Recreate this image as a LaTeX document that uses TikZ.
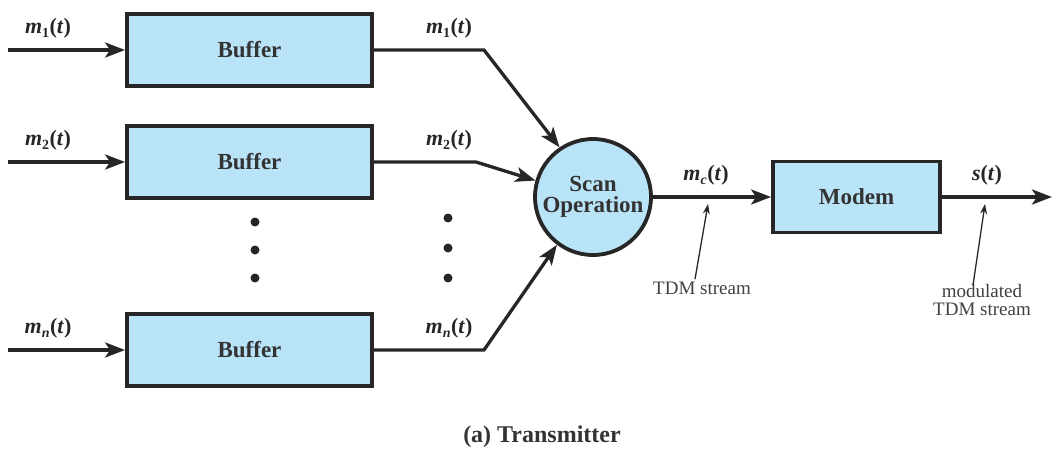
\documentclass[tikz,border=0pt]{standalone}
\usepackage{fontspec}
\setmainfont{Liberation Serif}
\usetikzlibrary{arrows.meta}
\definecolor{boxblue}{HTML}{B9E3F7}
\newcommand{\sig}[2]{\textbf{\textit{m}\raisebox{-4pt}{\fontsize{14}{14}\selectfont #2}\kern0.5pt(\textit{t})}}
\begin{document}
\begin{tikzpicture}[x=1pt,y=-1pt,
  blk/.style={draw=black!85,line width=3.8pt,fill=boxblue,font=\fontsize{23}{25}\selectfont\bfseries,text=black!80},
  sig/.style={line width=3.3pt,draw=black!85},
  arr/.style={sig,-{Stealth[length=20pt,width=15pt,inset=5pt]}},
  lab/.style={font=\fontsize{22}{24}\selectfont,text=black!85},
  note/.style={font=\fontsize{19}{21}\selectfont,text=black!75,align=center},
  thinarr/.style={line width=1.3pt,draw=black!85,-{Stealth[length=10pt,width=7pt]}},
  dot/.style={circle,fill=black!85,inner sep=0pt,minimum size=9pt}]
\useasboundingbox (0,0) rectangle (1052,452);
% buffers
\node[blk,minimum width=245pt,minimum height=72pt] (b1) at (249.5,50) {Buffer};
\node[blk,minimum width=245pt,minimum height=72pt] (b2) at (249.5,162) {Buffer};
\node[blk,minimum width=245pt,minimum height=72pt] (bn) at (249.5,350) {Buffer};
\node[blk,circle,minimum size=116pt,inner sep=0pt,align=center] (scan) at (593,197) {Scan\\[-4pt]Operation};
\node[blk,minimum width=167pt,minimum height=71pt] (modem) at (856.5,197) {Modem};
% inputs
\coordinate (i1) at (8,50);
\coordinate (i2) at (8,162);
\coordinate (in) at (8,350);
\draw[arr] (i1) -- (b1.west);
\draw[arr] (i2) -- (b2.west);
\draw[arr] (in) -- (bn.west);
\node[lab] (l1) at (48,28) {\sig{m}{\bfseries 1}};
\node[lab] (l2) at (48,140) {\sig{m}{\bfseries 2}};
\node[lab] (ln) at (48,328) {\sig{m}{\bfseries\itshape n}};
% outputs
\coordinate (k1) at (484,50);
\coordinate (k2) at (476,162);
\coordinate (kn) at (484,350);
\draw[arr] (b1.east) -- (k1) -- (scan.124);
\draw[arr] (b2.east) -- (k2) -- (scan.164);
\draw[arr] (bn.east) -- (kn) -- (scan.233);
\node[lab] (o1) at (449,28) {\sig{m}{\bfseries 1}};
\node[lab] (o2) at (449,140) {\sig{m}{\bfseries 2}};
\node[lab] (on) at (449,328) {\sig{m}{\bfseries\itshape n}};
% dots
\node[dot] (d1) at (255,222) {};
\node[dot] (d2) at (255,250) {};
\node[dot] (d3) at (255,278) {};
\node[dot] (e1) at (448,218) {};
\node[dot] (e2) at (448,248) {};
\node[dot] (e3) at (448,278) {};
% scan to modem
\draw[arr] (scan.east) -- (modem.west);
\node[lab] (mc) at (706,175) {\sig{m}{\bfseries\itshape c}};
\coordinate (ct) at (708,204);
\node[note] (tdm) at (702,288) {TDM stream};
\draw[thinarr] (tdm.north) ++(-7pt,-1pt) coordinate (ctail) (ctail) -- (ct);
% modem out
\coordinate (out) at (1052,197);
\draw[arr] (modem.east) -- (out);
\node[lab] (st) at (987,175) {\textbf{\textit{s}(\textit{t})}};
\coordinate (st2) at (985,204);
\node[note,inner sep=1pt] (mtdm) at (982,300) {modulated\\[-3pt]TDM stream};
\draw[thinarr] (mtdm.north) ++(-9pt,-2pt) coordinate (mtail) (mtail) -- (st2);
% caption
\node[font=\fontsize{24}{26}\selectfont\bfseries,text=black!80] (cap) at (542,437) {(a) Transmitter};
\end{tikzpicture}
\end{document}
